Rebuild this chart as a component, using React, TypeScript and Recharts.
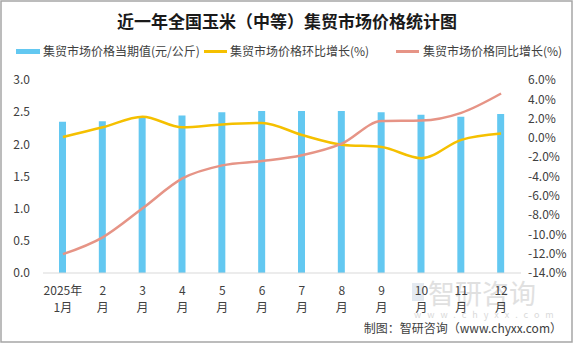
import { ComposedChart, Bar, Line, XAxis, YAxis } from 'recharts'

const months = ['2025年1月', '2月', '3月', '4月', '5月', '6月', '7月', '8月', '9月', '10月', '11月', '12月']
const tickTop = ['2025年', '2', '3', '4', '5', '6', '7', '8', '9', '10', '11', '12']
const tickBottom = ['1月', '月', '月', '月', '月', '月', '月', '月', '月', '月', '月', '月']
const price = [2.35, 2.36, 2.42, 2.45, 2.5, 2.52, 2.52, 2.52, 2.5, 2.46, 2.43, 2.47]
const momGrowth = [0.1, 1.1, 2.2, 1.1, 1.4, 1.55, 0.3, -0.7, -0.95, -2.1, -0.2, 0.45]
const yoyGrowth = [-12.05, -10.3, -7.3, -4.2, -2.85, -2.4, -1.8, -0.6, 1.75, 1.8, 2.6, 4.6]
const leftTicks = [0, 0.5, 1, 1.5, 2, 2.5, 3]
const rightTicks = [-14, -12, -10, -8, -6, -4, -2, 0, 2, 4, 6]

const FONT = '"Noto Sans CJK SC", "Noto Sans", sans-serif'
const BAR = '#63C8F1'
const YELLOW = '#F5C000'
const ORANGE = '#E69486'

const data = months.map((m, i) => ({
  month: m,
  price: price[i],
  mom: momGrowth[i],
  yoy: yoyGrowth[i],
}))

// two-line month label under each bar
const MonthTick = ({ x, y, index }: any) => (
  <g>
    <text x={x} y={y + 14} textAnchor="middle" fontSize={12} fill="#404040" fontFamily={FONT}>
      {tickTop[index]}
    </text>
    <text x={x} y={y + 31} textAnchor="middle" fontSize={12} fill="#404040" fontFamily={FONT}>
      {tickBottom[index]}
    </text>
  </g>
)

export default function App() {
  const legendText = { fontSize: 12, fill: '#404040', fontFamily: FONT }
  return (
    <div style={{ position: 'absolute', left: 0, top: 0, width: 573, height: 344, background: '#fff' }}>
      <svg width={573} height={344} style={{ position: 'absolute', left: 0, top: 0 }}>
        <rect x={1} y={1} width={571} height={341} fill="#fff" stroke="#a6a6a6" strokeWidth={1.5} />
        <text x={287} y={28} textAnchor="middle" fontSize={17} fontWeight="bold" fill="#1a1a1a" fontFamily={FONT}>
          近一年全国玉米（中等）集贸市场价格统计图
        </text>
        <rect x={16} y={49} width={24} height={5} fill={BAR} />
        <text x={43} y={56} {...legendText}>集贸市场价格当期值(元/公斤)</text>
        <line x1={204} y1={51.5} x2={227} y2={51.5} stroke={YELLOW} strokeWidth={3} />
        <text x={230} y={56} {...legendText}>集贸市场价格环比增长(%)</text>
        <line x1={396} y1={51.5} x2={419} y2={51.5} stroke={ORANGE} strokeWidth={3} />
        <text x={423} y={56} {...legendText}>集贸市场价格同比增长(%)</text>
        {/* watermark */}
        <rect x={412} y={283} width={12} height={18} fill="#c9d6e3" opacity={0.5} />
        <text x={428} y={304} fontSize={27} fill="#d4d4d4" opacity={0.7} fontFamily={FONT}>智研咨询</text>
        <text x={414} y={318} fontSize={9} fill="#dadada" letterSpacing={6} fontFamily={FONT}>www.chyxx.com</text>
        <text x={562} y={333} textAnchor="end" fontSize={12} fill="#404040" fontFamily={FONT}>
          制图：智研咨询（www.chyxx.com）
        </text>
      </svg>
      <div style={{ position: 'absolute', left: 0, top: 0 }}>
        <ComposedChart
          width={573}
          height={344}
          data={data}
          margin={{ top: 80, right: 0, bottom: 31, left: 0 }}
        >
          <XAxis
            dataKey="month"
            interval={0}
            tickLine={false}
            axisLine={{ stroke: '#d9d9d9' }}
            tick={<MonthTick />}
            height={40}
          />
          <YAxis
            yAxisId="left"
            domain={[0, 3]}
            ticks={leftTicks}
            tickFormatter={(v: number) => v.toFixed(1)}
            width={43}
            axisLine={false}
            tickLine={false}
            tickSize={0}
            tickMargin={13}
            tick={{ fontSize: 12, fill: '#404040', fontFamily: FONT }}
            interval={0}
          />
          <YAxis
            yAxisId="right"
            orientation="right"
            domain={[-14, 6]}
            ticks={rightTicks}
            tickFormatter={(v: number) => v.toFixed(1) + '%'}
            width={52}
            axisLine={false}
            tickLine={false}
            tickSize={0}
            tickMargin={7}
            tick={{ fontSize: 12, fill: '#404040', fontFamily: FONT, textAnchor: 'start' }}
            interval={0}
          />
          <Bar yAxisId="left" dataKey="price" fill={BAR} barSize={7} isAnimationActive={false} />
          <Line
            yAxisId="right"
            type="monotone"
            dataKey="mom"
            stroke={YELLOW}
            strokeWidth={2.5}
            dot={false}
            isAnimationActive={false}
          />
          <Line
            yAxisId="right"
            type="monotone"
            dataKey="yoy"
            stroke={ORANGE}
            strokeWidth={2.5}
            dot={false}
            isAnimationActive={false}
          />
        </ComposedChart>
      </div>
    </div>
  )
}
